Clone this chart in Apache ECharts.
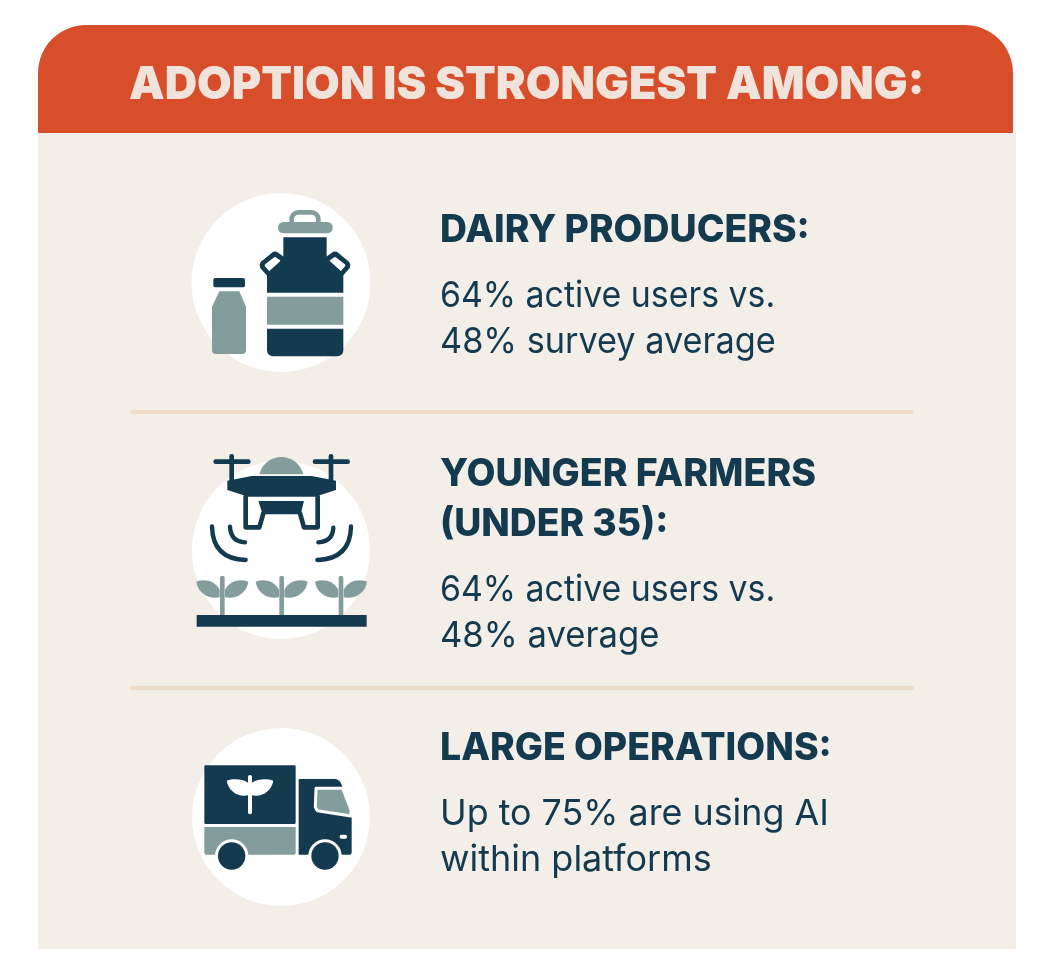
<!DOCTYPE html>
<html>
<head>
<meta charset="utf-8">
<title>Adoption is strongest among</title>
<script src="https://cdn.jsdelivr.net/npm/echarts@6/dist/echarts.min.js"></script>
<style>
html, body { margin: 0; padding: 0; background: #fff; }
#main { width: 1050px; height: 975px; }
</style>
</head>
<body>
<div id="main"></div>
<script>
var titleText = 'ADOPTION IS STRONGEST AMONG:';
var headingLines = ['DAIRY PRODUCERS:', 'YOUNGER FARMERS', '(UNDER 35):', 'LARGE OPERATIONS:'];
var bodyLines = ['64% active users vs.', '48% survey average', '64% active users vs.', '48% average', 'Up to 75% are using AI', 'within platforms'];

var NAVY = '#143a50', SAGE = '#829d9b', RED = '#d94e2a', PANEL = '#f3eee8', RULE = '#eedcc9', CREAM = '#efe3db';
var FONT = 'Inter';
var shapeCount = 0;

function label(str, x, y, size, weight, color, sx) {
    return {
        type: 'text', x: x, y: y, scaleX: sx || 1,
        style: { text: str, x: 0, y: 0, fill: color, font: weight + ' ' + size + 'px ' + FONT, textAlign: 'left', textVerticalAlign: 'middle' }
    };
}
// graphic has no plain path type, so each svg path gets registered as a shape
function p(d, fill) {
    var name = 'iconPath' + (shapeCount++);
    echarts.graphic.registerShape(name, echarts.graphic.extendPath(d));
    return { type: name, style: { fill: fill } };
}
function poly(points, fill) { return { type: 'polygon', shape: { points: points }, style: { fill: fill } }; }
function roundPoly(points, fill, w) { return { type: 'polygon', shape: { points: points }, style: { fill: fill, stroke: fill, lineWidth: w, lineJoin: 'round' } }; }
function rr(x, y, w, h, r, fill) { return { type: 'rect', shape: { x: x, y: y, width: w, height: h, r: r }, style: { fill: fill } }; }
function circ(cx, cy, r, fill) { return { type: 'circle', shape: { cx: cx, cy: cy, r: r }, style: { fill: fill } }; }
function line(points, w, color, cap) { return { type: 'polyline', shape: { points: points }, style: { stroke: color, lineWidth: w, fill: null, lineCap: cap || 'round', lineJoin: 'round' } }; }
function curve(x1, y1, cx, cy, x2, y2, w, color) { return { type: 'bezierCurve', shape: { x1: x1, y1: y1, x2: x2, y2: y2, cpx1: cx, cpy1: cy }, style: { stroke: color, lineWidth: w, fill: null, lineCap: 'round' } }; }
// the icons are drawn in zoom space (3x), so the group scales them back
function icon(x, y, children) { return { type: 'group', x: x, y: y, scaleX: 1 / 3, scaleY: 1 / 3, children: children }; }

// 牛奶罐
var can = [
    { type: 'rect', shape: { x: 335, y: 67, width: 80, height: 50, r: 20 }, style: { fill: null, stroke: SAGE, lineWidth: 14 } },
    rr(294, 96, 164, 34, 16, SAGE),
    roundPoly([[255, 226], [285, 201], [300, 212], [272, 245]], NAVY, 32),
    roundPoly([[258, 226], [285, 205], [297, 213], [271, 241]], '#fff', 8),
    roundPoly([[495, 226], [465, 201], [450, 212], [478, 245]], NAVY, 32),
    roundPoly([[492, 226], [465, 205], [453, 213], [479, 241]], '#fff', 8),
    poly([[310, 142], [440, 142], [440, 205], [490, 250], [490, 308], [261, 308], [261, 250], [310, 205]], NAVY),
    rr(261, 320, 229, 84, 0, SAGE),
    rr(261, 416, 229, 83, [0, 0, 18, 18], NAVY),
    rr(100, 264, 95, 28, 6, NAVY),
    p('M118 304 L178 304 L198 350 L198 480 Q198 492 186 492 L108 492 Q96 492 96 480 L96 350 Z', SAGE)
];

// 无人机
function plant(cx) {
    return [
        rr(cx - 7, 392, 14, 120, [7, 7, 0, 0], SAGE),
        p('M' + (cx - 8) + ' 434 C' + (cx - 22) + ' 408 ' + (cx - 52) + ' 400 ' + (cx - 78) + ' 410 C' + (cx - 74) + ' 442 ' + (cx - 42) + ' 464 ' + (cx - 8) + ' 457 Z', SAGE),
        p('M' + (cx + 8) + ' 434 C' + (cx + 22) + ' 408 ' + (cx + 52) + ' 400 ' + (cx + 78) + ' 410 C' + (cx + 74) + ' 442 ' + (cx + 42) + ' 464 ' + (cx + 8) + ' 457 Z', SAGE)
    ];
}
var drone = [
    line([[107, 50], [205, 50]], 14, NAVY),
    line([[155, 34], [155, 105]], 14, NAVY),
    line([[405, 50], [503, 50]], 14, NAVY),
    line([[453, 34], [453, 105]], 14, NAVY),
    p('M238 88 C246 55 275 36 304 36 C333 36 362 55 370 88 Z', SAGE),
    poly([[142, 107], [215, 93], [395, 93], [468, 107], [468, 135], [405, 155], [205, 155], [142, 135]], NAVY),
    line([[197, 155], [197, 247], [238, 247], [250, 205]], 14, NAVY),
    line([[413, 155], [413, 247], [372, 247], [360, 205]], 14, NAVY),
    poly([[235, 168], [372, 168], [362, 208], [248, 208]], NAVY),
    curve(150, 245, 152, 290, 195, 292, 13, NAVY),
    curve(96, 244, 98, 342, 197, 345, 13, NAVY),
    curve(460, 248, 458, 290, 415, 292, 13, NAVY),
    curve(513, 244, 511, 342, 412, 345, 13, NAVY)
].concat(plant(127), plant(305), plant(483), [rr(50, 510, 510, 35, 0, NAVY)]);

// 卡车
var truck = [
    rr(73, 136, 274, 176, 4, NAVY),
    rr(204, 165, 12, 118, 6, '#fff'),
    p('M204 188 C185 176 160 176 140 182 C145 210 170 232 204 226 Z', '#fff'),
    p('M216 188 C235 176 260 176 280 182 C275 210 250 232 216 226 Z', '#fff'),
    rr(73, 321, 274, 83, [0, 0, 6, 6], SAGE),
    p('M356 177 L465 177 Q480 178 485 195 L515 275 L515 398 Q515 404 509 404 L356 404 Z', NAVY),
    { type: 'polygon', shape: { points: [[408, 205], [488, 205], [513, 270], [513, 288], [412, 272], [406, 262]] }, style: { fill: SAGE, stroke: '#fff', lineWidth: 9, lineJoin: 'round' } },
    rr(479, 344, 22, 12, 5, '#fff'),
    circ(155, 408, 50, '#fff'),
    circ(155, 408, 41, NAVY),
    circ(435, 408, 50, '#fff'),
    circ(435, 408, 41, NAVY)
];

var elements = [
    rr(38, 133, 978, 816, 0, PANEL),
    rr(38, 25, 975, 108, [48, 48, 0, 0], RED),
    label(titleText, 129, 85, 46, 900, CREAM, 0.975),
    circ(281, 282.5, 89.5, '#fff'),
    circ(281, 550, 89, '#fff'),
    circ(281, 817, 89, '#fff'),
    icon(180, 190, can),
    icon(180, 445, drone),
    icon(180, 720, truck),
    rr(131, 410, 783, 4, 0, RULE),
    rr(131, 686, 783, 4, 0, RULE),
    label(headingLines[0], 440, 231, 38, 800, NAVY, 0.983),
    label(headingLines[1], 440, 475, 38, 800, NAVY, 0.988),
    label(headingLines[2], 440, 525, 38, 800, NAVY, 0.98),
    label(headingLines[3], 440, 749, 38, 800, NAVY, 0.985),
    label(bodyLines[0], 440, 296.5, 36, 400, NAVY, 0.94),
    label(bodyLines[1], 440, 342.5, 36, 400, NAVY, 0.952),
    label(bodyLines[2], 440, 590, 36, 400, NAVY, 0.94),
    label(bodyLines[3], 440, 636, 36, 400, NAVY, 0.962),
    label(bodyLines[4], 440, 814, 36, 400, NAVY, 0.995),
    label(bodyLines[5], 440, 860, 36, 400, NAVY, 1)
];

var myChart = echarts.init(document.getElementById('main'), null, { renderer: 'canvas' });
var option = {
    animation: false,
    backgroundColor: '#fff',
    graphic: { elements: elements }
};
myChart.setOption(option);
window.addEventListener('resize', myChart.resize);
</script>
</body>
</html>
